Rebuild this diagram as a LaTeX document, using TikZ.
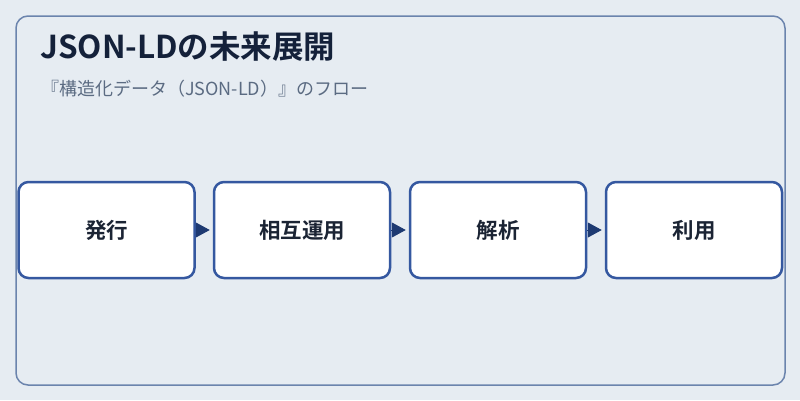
\documentclass[tikz,border=0pt]{standalone}
\usepackage{fontspec}
\setmainfont{Noto Sans CJK JP}[BoldFont={Noto Sans CJK JP Bold}]
\usetikzlibrary{arrows.meta}
\definecolor{pagebg}{HTML}{E6ECF2}
\definecolor{framecol}{HTML}{6B84AD}
\definecolor{boxline}{HTML}{3558A0}
\definecolor{tipcol}{HTML}{1E3A72}
\definecolor{titlecol}{HTML}{14213A}
\definecolor{subcol}{HTML}{5B6B82}
\definecolor{labelcol}{HTML}{1B2434}
\tikzset{
	stagebox/.style={draw=boxline, line width=2.5pt, fill=white, rounded corners=10pt,
		minimum width=176pt, minimum height=96pt, inner sep=0pt,
		text=labelcol, font=\fontsize{21.5}{26}\selectfont\bfseries},
	flowtip/.style={tipcol, line width=1pt, shorten >=3pt,
		-{Triangle[length=14pt, width=15pt]}}
}

\begin{document}
\begin{tikzpicture}[x=1pt, y=-1pt]
			%%%%% START %%%%%
			
			\fill[pagebg] (0, 0) rectangle (800, 400);
			\draw[framecol, line width=1.5pt, rounded corners=12pt] (16, 16) rectangle (785, 385);
			
			\node[anchor=base west, inner sep=0pt, text=titlecol, font=\fontsize{31.5}{37}\selectfont\bfseries] (title) at (40, 58) {JSON-LDの未来展開};
			\node[anchor=base west, inner sep=0pt, text=subcol, font=\fontsize{18}{22}\selectfont] (subtitle) at (41, 95) {『構造化データ（JSON-LD）』のフロー};
			
			\node[stagebox] (issue) at (106.5, 230) {発行};
			\node[stagebox] (interop) at (302, 230) {相互運用};
			\node[stagebox] (parse) at (498, 230) {解析};
			\node[stagebox] (use) at (694, 230) {利用};
			
			\draw[flowtip] (issue) -- (interop);
			\draw[flowtip] (interop) -- (parse);
			\draw[flowtip] (parse) -- (use);
			
			%%%%% END %%%%%
\end{tikzpicture}
\end{document}
